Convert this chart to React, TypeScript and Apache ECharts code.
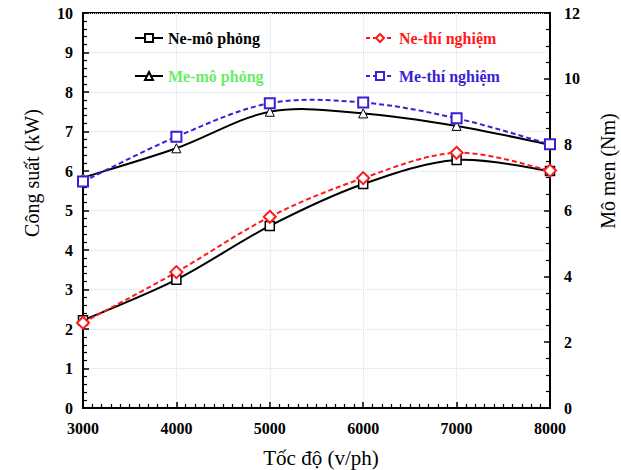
import React, { useEffect, useRef } from "react";
import * as echarts from "echarts";

// Engine speed (v/ph)
const speeds = [3000, 4000, 5000, 6000, 7000, 8000];
// Power (kW), left axis
const neSim = [2.22, 3.25, 4.61, 5.67, 6.28, 6.0];
const neExp = [2.16, 3.44, 4.84, 5.82, 6.46, 6.01];
// Torque (Nm), right axis
const meSim = [7.0, 7.89, 9.0, 8.95, 8.57, 8.0];
const meExp = [6.88, 8.24, 9.26, 9.28, 8.8, 8.01];

const seriesNames = ["Ne-mô phỏng", "Ne-thí nghiệm", "Me-mô phỏng", "Me-thí nghiệm"];
const legendColors = ["#000000", "#ff1a1a", "#66ee66", "#3a1fd6"];

const FONT = "Liberation Serif";
const BLUE = "#3a1fd6";
const RED = "#ff1a1a";

const pairs = (ys: number[]) => speeds.map((x, i) => [x, ys[i]]);

// Catmull-Rom style smoothed curve, one bezier segment per data interval,
// positioned through the axis scales with api.coord.
function curveSeries(ys: number[], yAxisIndex: number, color: string, dash: number[] | null) {
  return {
    type: "custom",
    yAxisIndex,
    z: 1,
    silent: true,
    data: speeds.slice(0, -1).map((_, i) => i),
    renderItem: (params: any, api: any) => {
      const i = params.dataIndex;
      const n = speeds.length;
      const pt = (k: number) => {
        const j = Math.max(0, Math.min(n - 1, k));
        return api.coord([speeds[j], ys[j]]);
      };
      const p0 = pt(i - 1);
      const p1 = pt(i);
      const p2 = pt(i + 1);
      const p3 = pt(i + 2);
      return {
        type: "bezierCurve",
        shape: {
          x1: p1[0],
          y1: p1[1],
          cpx1: p1[0] + (p2[0] - p0[0]) / 6,
          cpy1: p1[1] + (p2[1] - p0[1]) / 6,
          cpx2: p2[0] - (p3[0] - p1[0]) / 6,
          cpy2: p2[1] - (p3[1] - p1[1]) / 6,
          x2: p2[0],
          y2: p2[1],
        },
        style: {
          stroke: color,
          lineWidth: 2,
          fill: "none",
          lineDash: dash || undefined,
        },
      };
    },
  };
}

export default function App() {
  const ref = useRef<HTMLDivElement>(null);

  useEffect(() => {
    if (!ref.current) return;
    const chart = echarts.init(ref.current, undefined, { renderer: "svg" });

    const legend = (i: number, left: number, top: number, lineColor: string, dashed: boolean) => ({
      show: true,
      data: [seriesNames[i]],
      left,
      top,
      padding: 0,
      itemWidth: 28,
      itemHeight: 10,
      selectedMode: false,
      lineStyle: { color: lineColor, width: 2, opacity: 1, type: dashed ? [4, 3] : "solid" },
      textStyle: {
        color: legendColors[i],
        fontFamily: FONT,
        fontWeight: "bold",
        fontSize: 16,
      },
    });

    const gridLine = {
      show: true,
      lineStyle: { color: "#d6dfec", type: "dotted", width: 1 },
    };

    const labelStyle = (margin: number) => ({
      color: "#000",
      fontFamily: FONT,
      fontWeight: "bold",
      fontSize: 16,
      margin,
    });

    chart.setOption({
      animation: false,
      backgroundColor: "#ffffff",
      grid: {
        left: 83,
        right: 71,
        top: 13,
        bottom: 62,
        show: true,
        borderColor: "#000",
        borderWidth: 2,
        backgroundColor: "transparent",
      },
      legend: [
        legend(0, 134, 30, "#000", false),
        legend(1, 365, 30, RED, true),
        legend(2, 134, 68, "#000", false),
        legend(3, 365, 68, BLUE, true),
      ],
      xAxis: {
        type: "value",
        min: 3000,
        max: 8000,
        interval: 1000,
        axisLine: { show: true, lineStyle: { color: "#000", width: 2 } },
        axisTick: { show: true, inside: true, length: 6, lineStyle: { color: "#000", width: 1.5 } },
        minorTick: { show: true, splitNumber: 10, length: 4, lineStyle: { color: "#000", width: 1.2 } },
        splitLine: gridLine,
        axisLabel: { ...labelStyle(12), formatter: (v: number) => String(v) },
      },
      yAxis: [
        {
          type: "value",
          min: 0,
          max: 10,
          interval: 1,
          position: "left",
          axisLine: { show: true, lineStyle: { color: "#000", width: 2 } },
          axisTick: { show: true, inside: true, length: 6, lineStyle: { color: "#000", width: 1.5 } },
          minorTick: { show: true, splitNumber: 5, length: 4, lineStyle: { color: "#000", width: 1.2 } },
          splitLine: gridLine,
          axisLabel: labelStyle(10),
        },
        {
          type: "value",
          min: 0,
          max: 12,
          interval: 2,
          position: "right",
          axisLine: { show: true, lineStyle: { color: "#000", width: 2 } },
          axisTick: { show: true, inside: true, length: 6, lineStyle: { color: "#000", width: 1.5 } },
          minorTick: { show: true, splitNumber: 4, length: 4, lineStyle: { color: "#000", width: 1.2 } },
          splitLine: { show: false },
          axisLabel: labelStyle(14),
        },
      ],
      graphic: [
        {
          type: "text",
          x: 32,
          y: 173,
          rotation: Math.PI / 2,
          style: {
            text: "Công suất (kW)",
            fontFamily: FONT,
            fontSize: 20,
            fill: "#000",
            align: "center",
            verticalAlign: "middle",
          },
        },
        {
          type: "text",
          x: 608,
          y: 171,
          rotation: Math.PI / 2,
          style: {
            text: "Mô men (Nm)",
            fontFamily: FONT,
            fontSize: 20,
            fill: "#000",
            align: "center",
            verticalAlign: "middle",
          },
        },
        {
          type: "text",
          x: 321,
          y: 458,
          style: {
            text: "Tốc độ (v/ph)",
            fontFamily: FONT,
            fontSize: 21,
            fill: "#000",
            align: "center",
            verticalAlign: "middle",
          },
        },
      ],
      series: [
        curveSeries(neSim, 0, "#000", null),
        curveSeries(meSim, 1, "#000", null),
        curveSeries(neExp, 0, RED, [5, 3]),
        curveSeries(meExp, 1, BLUE, [5, 3]),
        {
          name: seriesNames[0],
          type: "line",
          yAxisIndex: 0,
          data: pairs(neSim),
          symbol: "rect",
          symbolSize: 9,
          lineStyle: { opacity: 0 },
          itemStyle: { color: "#fff", borderColor: "#000", borderWidth: 1.5 },
          z: 2,
        },
        {
          name: seriesNames[2],
          type: "line",
          yAxisIndex: 1,
          data: pairs(meSim),
          symbol: "triangle",
          symbolSize: 9,
          lineStyle: { opacity: 0 },
          itemStyle: { color: "#fff", borderColor: "#000", borderWidth: 1 },
          z: 2,
        },
        {
          name: seriesNames[1],
          type: "line",
          yAxisIndex: 0,
          data: pairs(neExp),
          symbol: "diamond",
          symbolSize: 12,
          lineStyle: { opacity: 0 },
          itemStyle: { color: "#fff", borderColor: RED, borderWidth: 2 },
          z: 3,
        },
        {
          name: seriesNames[3],
          type: "line",
          yAxisIndex: 1,
          data: pairs(meExp),
          symbol: "rect",
          symbolSize: 10,
          lineStyle: { opacity: 0 },
          itemStyle: { color: "#fff", borderColor: BLUE, borderWidth: 2 },
          z: 3,
        },
      ],
    });

    return () => chart.dispose();
  }, []);

  return (
    <div
      ref={ref}
      style={{ position: "fixed", left: 0, top: 0, width: 621, height: 470, background: "#fff" }}
    />
  );
}
